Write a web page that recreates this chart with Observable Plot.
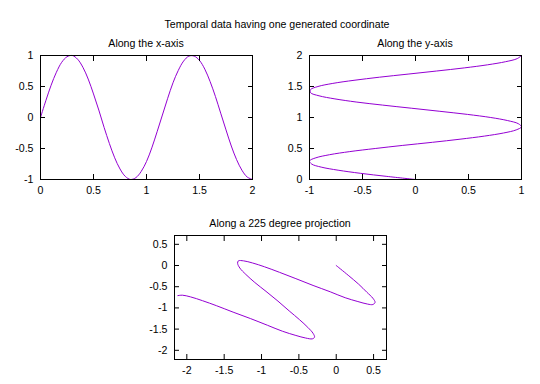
<!DOCTYPE html>
<html><head><meta charset="utf-8">
<script src="https://cdn.jsdelivr.net/npm/d3@7"></script>
<script src="https://cdn.jsdelivr.net/npm/@observablehq/plot@0.6"></script>
<style>
html,body{margin:0;padding:0;background:#fff;}
#root{position:relative;width:540px;height:384px;overflow:hidden;font-family:"Liberation Sans",Arial,sans-serif;}
.t{position:absolute;font-size:10.6px;line-height:12px;color:#000;white-space:nowrap;transform:translateX(-50%);}
#root svg{position:absolute;overflow:visible;}
</style></head><body><div id="root"></div>
<script>
// Chart texts
const mainTitle = "Temporal data having one generated coordinate";
const panelTitles = ["Along the x-axis", "Along the y-axis", "Along a 225 degree projection"];

// Panel 1: time t along x, value along y
const T = [0,0.05,0.1,0.15,0.2,0.25,0.3,0.35,0.4,0.45,0.5,0.55,0.6,0.65,0.7,0.75,0.8,0.85,0.9,0.95,1,1.05,1.1,1.15,1.2,1.25,1.3,1.35,1.4,1.45,1.5,1.55,1.6,1.65,1.7,1.75,1.8,1.85,1.9,1.95,2];
const S = [0,0.27,0.52,0.73,0.89,0.98,1.00,0.94,0.81,0.62,0.38,0.12,-0.16,-0.42,-0.65,-0.83,-0.95,-1.00,-0.97,-0.87,-0.71,-0.49,-0.23,0.04,0.31,0.56,0.76,0.91,0.99,0.99,0.92,0.78,0.58,0.34,0.07,-0.20,-0.46,-0.68,-0.85,-0.96,-1.00];

// Panel 2: time along y, value along x
const Y2 = [0,0.05,0.1,0.15,0.2,0.25,0.3,0.35,0.4,0.45,0.5,0.55,0.6,0.65,0.7,0.75,0.8,0.85,0.9,0.95,1,1.05,1.1,1.15,1.2,1.25,1.3,1.35,1.4,1.45,1.5,1.55,1.6,1.65,1.7,1.75,1.8,1.85,1.9,1.95,2];
const X2 = [0,-0.27,-0.52,-0.73,-0.89,-0.98,-1.00,-0.94,-0.81,-0.62,-0.38,-0.12,0.16,0.42,0.65,0.83,0.95,1.00,0.97,0.87,0.71,0.49,0.23,-0.04,-0.31,-0.56,-0.76,-0.91,-0.99,-0.99,-0.92,-0.78,-0.58,-0.34,-0.07,0.20,0.46,0.68,0.85,0.96,1.00];

// Panel 3: 225 degree projection
const X3 = [0,0.16,0.30,0.41,0.49,0.52,0.49,0.42,0.29,0.12,-0.08,-0.31,-0.54,-0.76,-0.96,-1.12,-1.24,-1.31,-1.32,-1.29,-1.21,-1.09,-0.94,-0.78,-0.63,-0.49,-0.38,-0.31,-0.29,-0.32,-0.41,-0.54,-0.72,-0.92,-1.15,-1.38,-1.60,-1.79,-1.95,-2.06,-2.12];
const Y3 = [0,-0.23,-0.44,-0.63,-0.77,-0.87,-0.92,-0.91,-0.85,-0.76,-0.62,-0.47,-0.31,-0.16,-0.03,0.06,0.11,0.11,0.05,-0.06,-0.21,-0.40,-0.61,-0.84,-1.07,-1.28,-1.46,-1.60,-1.69,-1.73,-1.71,-1.65,-1.55,-1.41,-1.25,-1.10,-0.95,-0.83,-0.74,-0.70,-0.71];

// Tick values
const ticks1X = [0,0.5,1,1.5,2], ticks1Y = [-1,-0.5,0,0.5,1];
const ticks2X = [-1,-0.5,0,0.5,1], ticks2Y = [0,0.5,1,1.5,2];
const ticks3X = [-2,-1.5,-1,-0.5,0,0.5], ticks3Y = [-2,-1.5,-1,-0.5,0,0.5];

const root = document.getElementById("root");
const fmt = d => String(d);
const lineColor = "#9400d3";

function label(text, cx, top) {
  const d = document.createElement("div");
  d.className = "t"; d.textContent = text;
  d.style.left = cx + "px"; d.style.top = top + "px";
  root.appendChild(d);
}

function panel({data, xd, yd, xt, yt, left, top, width, height, ml, mr, mt, mb}) {
  const svg = Plot.plot({
    width, height, marginLeft: ml, marginRight: mr, marginTop: mt, marginBottom: mb,
    x: {domain: xd, label: null},
    y: {domain: yd, label: null},
    style: {background: "transparent", fontFamily: "'Liberation Sans', Arial, sans-serif", fontSize: "10.6px", color: "#000", overflow: "visible"},
    marks: [
      Plot.line(data, {x: "x", y: "y", stroke: lineColor, strokeWidth: 1, curve: "catmull-rom"}),
      Plot.frame({stroke: "#000", strokeWidth: 1}),
      Plot.axisX({ticks: xt, tickSize: 0, tickPadding: 7, tickFormat: fmt, fill: "#000"}),
      Plot.axisX({ticks: xt, anchor: "bottom", tickSize: -5, text: null, stroke: "#000"}),
      Plot.axisX({ticks: xt, anchor: "top", tickSize: -5, text: null, stroke: "#000"}),
      Plot.axisY({ticks: yt, tickSize: 0, tickPadding: 7, tickFormat: fmt, fill: "#000"}),
      Plot.axisY({ticks: yt, anchor: "left", tickSize: -5, text: null, stroke: "#000"}),
      Plot.axisY({ticks: yt, anchor: "right", tickSize: -5, text: null, stroke: "#000"})
    ]
  });
  svg.style.left = left + "px"; svg.style.top = top + "px";
  svg.style.maxWidth = "none";
  root.appendChild(svg);
}

const d1 = T.map((t, i) => ({x: t, y: S[i]}));
const d2 = Y2.map((y, i) => ({x: X2[i], y}));
const d3p = X3.map((x, i) => ({x, y: Y3[i]}));

panel({data: d1, xd: [0, 2], yd: [-1, 1], xt: ticks1X, yt: ticks1Y,
  left: 0, top: 0, width: 270, height: 210, ml: 40, mr: 18, mt: 55, mb: 31});
panel({data: d2, xd: [-1, 1], yd: [0, 2], xt: ticks2X, yt: ticks2Y,
  left: 270, top: 0, width: 270, height: 210, ml: 39, mr: 19, mt: 55, mb: 31});
panel({data: d3p, xd: [-2.165, 0.673], yd: [-2.217, 0.708], xt: ticks3X, yt: ticks3Y,
  left: 0, top: 200, width: 540, height: 184, ml: 174, mr: 154, mt: 35, mb: 25});

label(mainTitle, 277, 18);
label(panelTitles[0], 146, 37);
label(panelTitles[1], 415, 37);
label(panelTitles[2], 280, 217);
</script></body></html>
